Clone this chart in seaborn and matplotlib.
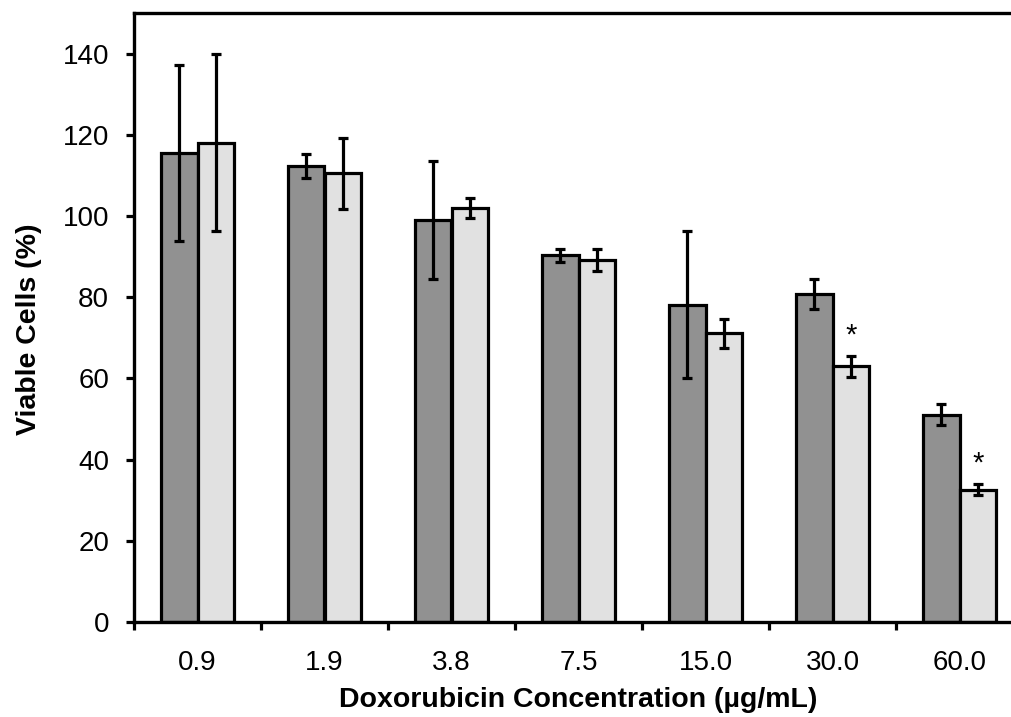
import matplotlib
matplotlib.use("Agg")
import matplotlib.pyplot as plt
import seaborn as sns
import pandas as pd
import numpy as np

concentrations = ["0.9", "1.9", "3.8", "7.5", "15.0", "30.0", "60.0"]
series_names = ["A", "B"]
dark_values = [115.6, 112.3, 99.0, 90.3, 78.2, 80.7, 51.1]
dark_errors = [21.7, 2.9, 14.6, 1.6, 18.1, 3.7, 2.6]
light_values = [118.1, 110.5, 102.0, 89.2, 71.1, 63.0, 32.6]
light_errors = [21.8, 8.7, 2.5, 2.7, 3.5, 2.6, 1.4]
significant_light = [False, False, False, False, False, True, True]

sns.set_theme(style="white")
plt.rcParams["font.family"] = ["Liberation Sans", "DejaVu Sans"]

df = pd.DataFrame({
    "conc": concentrations * 2,
    "series": [series_names[0]] * len(concentrations) + [series_names[1]] * len(concentrations),
    "value": dark_values + light_values,
})

fig = plt.figure(figsize=(10.11, 7.17), dpi=100)
ax = fig.add_axes([134 / 1011, 1 - 622 / 717, 889 / 1011, 609 / 717])

sns.barplot(data=df, x="conc", y="value", hue="series", order=concentrations,
            hue_order=series_names, palette=["#919191", "#e1e1e1"],
            edgecolor="black", linewidth=2.3, width=0.575, gap=0,
            errorbar=None, legend=False, ax=ax)

# error bars from bar positions
n = len(concentrations)
patches = [p for p in ax.patches if p.get_width() > 0][:2 * n]
dark_patches = sorted(patches[:n], key=lambda p: p.get_x())
light_patches = sorted(patches[n:], key=lambda p: p.get_x())
for plist, vals, errs in [(dark_patches, dark_values, dark_errors),
                          (light_patches, light_values, light_errors)]:
    xs = [p.get_x() + p.get_width() / 2 for p in plist]
    ax.errorbar(xs, vals, yerr=errs, fmt="none", ecolor="black",
                elinewidth=2.3, capsize=3.8, capthick=2.3, zorder=5)

for p, v, e, s in zip(light_patches, light_values, light_errors, significant_light):
    if s:
        ax.text(p.get_x() + p.get_width() / 2, v + e + 5.0, "*", ha="center",
                va="center", fontsize=21, color="black")

ax.set_xlim(-0.5, 6.5)
ax.set_ylim(0, 150)
ax.set_yticks(np.arange(0, 141, 20))
ax.set_xticks(range(n))
ax.set_xticklabels(concentrations)
ax.set_xticks(np.arange(-0.5, n, 1), minor=True)

ax.tick_params(axis="x", which="major", length=0, pad=20, labelsize=20, colors="black")
ax.tick_params(axis="x", which="minor", length=6, width=2.3, direction="out", bottom=True, color="black")
ax.tick_params(axis="y", which="major", length=6, width=2.3, direction="out", left=True,
               pad=12, labelsize=20, colors="black")

for sp in ax.spines.values():
    sp.set_color("black")
    sp.set_linewidth(2.4)
    sp.set_visible(True)

ax.set_xlabel("Doxorubicin Concentration (µg/mL)", fontsize=20.5, fontweight="bold",
              color="black", labelpad=8)
ax.set_ylabel("Viable Cells (%)", fontsize=20.5, fontweight="bold", color="black")
ax.yaxis.set_label_coords(-0.103, (622 - 329) / 609)

fig.savefig("out.png", dpi=100)
